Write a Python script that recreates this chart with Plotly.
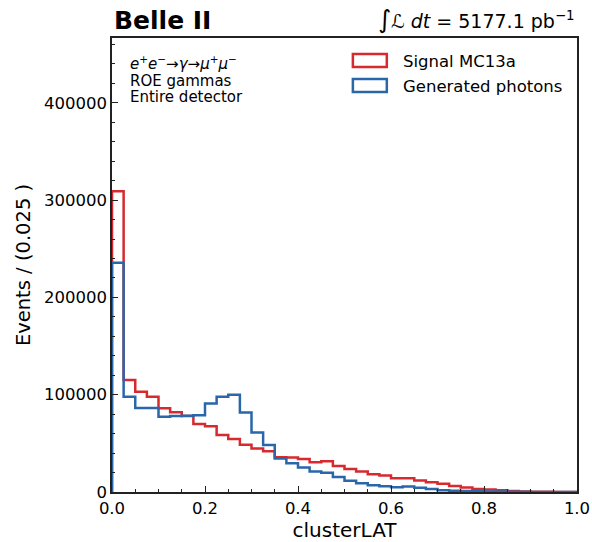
import numpy as np
import plotly.graph_objects as go

# ---- data ----
bin_width = 0.025
x_min, x_max = 0.0, 1.0
signal_mc13a = [309000, 115000, 103000, 98000, 86000, 82000, 78000, 70000, 67500, 58500,
                54500, 48500, 44700, 41800, 35800, 35500, 33800, 30600, 31600, 26800,
                23700, 21100, 18300, 17000, 14200, 14100, 11800, 10000, 8500, 6200,
                4700, 3200, 2500, 1700, 1100, 600, 300, 200, 100, 50]
generated_photons = [235500, 98000, 86300, 86300, 77300, 78000, 78300, 79000, 91000, 98000,
                     100000, 81800, 61200, 48200, 34500, 29500, 25100, 21000, 19900, 15500,
                     11500, 8900, 7000, 6000, 4800, 5600, 4400, 3100, 1800, 1400,
                     1000, 700, 500, 400, 300, 200, 100, 80, 50, 30]
series_names = ["Signal MC13a", "Generated photons"]
series_colors = ["#d62a2f", "#2a66aa"]
y_ticks = [0, 100000, 200000, 300000, 400000]
x_ticks = [0.0, 0.2, 0.4, 0.6, 0.8, 1.0]

edges = np.round(np.arange(x_min, x_max + bin_width / 2, bin_width), 6)
FONT = "DejaVu Sans"


def step_xy(values):
    xs = [edges[0]] + list(edges[:-1]) + [edges[-1]]
    ys = [0] + list(values) + [0]
    return xs, ys


fig = go.Figure()
for vals, name, col in zip([signal_mc13a, generated_photons], series_names, series_colors):
    xs, ys = step_xy(vals)
    fig.add_trace(go.Scatter(x=xs, y=ys, mode="lines", line=dict(shape="hv", color=col, width=2.5),
                             name=name, showlegend=False, hoverinfo="skip"))

axis_common = dict(showline=True, linecolor="#222222", linewidth=1.5, mirror=True,
                   ticks="inside", ticklen=6, tickwidth=1.2, tickcolor="#222222",
                   showgrid=False, zeroline=False, automargin=False,
                   tickfont=dict(family=FONT, size=16.5, color="black"))

fig.update_xaxes(range=[x_min, x_max], tickvals=x_ticks, tickformat=".1f",
                 minor=dict(dtick=0.05, ticks="inside", ticklen=3.5, tickwidth=1, tickcolor="#222222"),
                 title=dict(text="clusterLAT", font=dict(family=FONT, size=20, color="black"), standoff=4),
                 **axis_common)
fig.update_yaxes(range=[0, 466600], tickvals=y_ticks, tickformat="d",
                 minor=dict(dtick=20000, ticks="inside", ticklen=3.5, tickwidth=1, tickcolor="#222222"),
                 title=dict(text="Events / (0.025 )", font=dict(family=FONT, size=19.5, color="black"), standoff=8),
                 **axis_common)

annotations = [
    dict(text="<b>Belle II</b>", x=0.0, y=1.0396, xref="paper", yref="paper", xanchor="left",
         yanchor="middle", showarrow=False, font=dict(family=FONT, size=25, color="black")),
    dict(text="<span style='font-size:25px'>∫</span><i>ℒ dt</i> = 5177.1 pb<sup>−1</sup>",
         x=1.0, y=1.04, xref="paper", yref="paper", xanchor="right", yanchor="middle",
         showarrow=False, font=dict(family=FONT, size=19, color="black")),
    dict(text="<i>e</i><sup>+</sup><i>e</i><sup>−</sup>→<i>γ</i>→<i>μ</i><sup>+</sup><i>μ</i><sup>−</sup>",
         x=0.0344, y=0.945, xref="paper", yref="paper", xanchor="left", yanchor="middle",
         showarrow=False, font=dict(family=FONT, size=15, color="black")),
    dict(text="ROE gammas", x=0.0344, y=0.905, xref="paper", yref="paper", xanchor="left",
         yanchor="middle", showarrow=False, font=dict(family=FONT, size=15, color="black")),
    dict(text="Entire detector", x=0.0344, y=0.870, xref="paper", yref="paper", xanchor="left",
         yanchor="middle", showarrow=False, font=dict(family=FONT, size=15, color="black")),
]
shapes = []
legend_rows = [(0.9648, 0.936, 0.949), (0.9097, 0.881, 0.894)]
for (ytop, ybot, ytxt), name, col in zip(legend_rows, series_names, series_colors):
    shapes.append(dict(type="rect", xref="paper", yref="paper", x0=0.518, x1=0.591, y0=ybot, y1=ytop,
                       line=dict(color=col, width=2.5), fillcolor="rgba(0,0,0,0)"))
    annotations.append(dict(text=name, x=0.6215, y=ytxt, xref="paper", yref="paper", xanchor="left",
                            yanchor="middle", showarrow=False,
                            font=dict(family=FONT, size=16.5, color="black")))

fig.update_layout(width=592, height=542, margin=dict(l=112, r=15, t=38, b=50),
                  paper_bgcolor="white", plot_bgcolor="white",
                  font=dict(family=FONT, color="black"),
                  annotations=annotations, shapes=shapes, showlegend=False)

fig.write_html("out.html")
